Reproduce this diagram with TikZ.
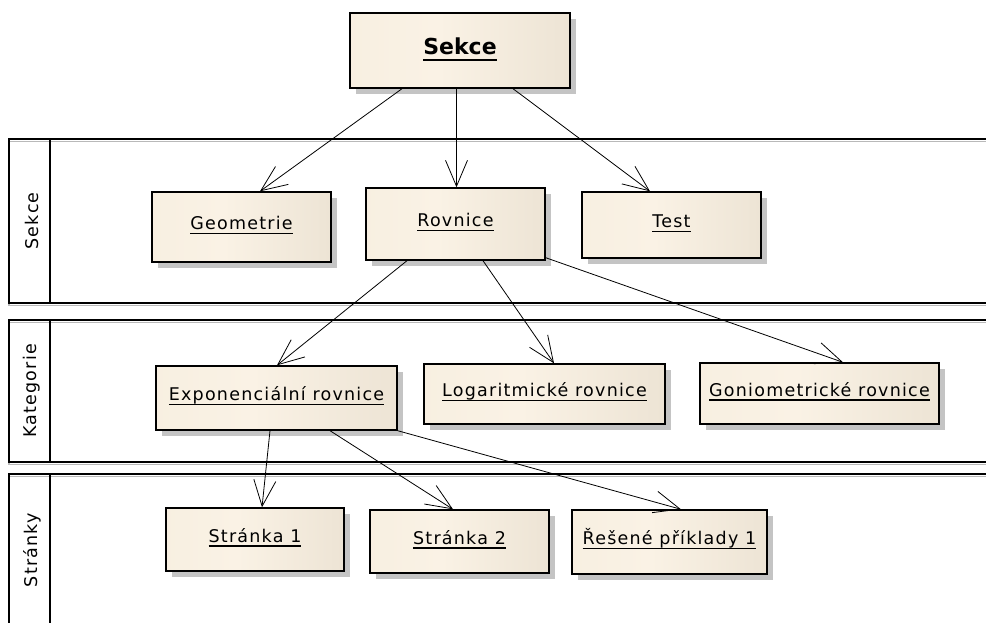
\documentclass[tikz,border=0pt]{standalone}
\usepackage{fontspec}
\usetikzlibrary{arrows.meta,shadows}
\newfontfamily\boxfont[LetterSpace=7]{DejaVu Sans}
\newfontfamily\titlefont{DejaVu Sans}
\definecolor{boxA}{RGB}{245,236,220}
\definecolor{boxB}{RGB}{250,242,229}
\definecolor{boxC}{RGB}{226,216,199}
\definecolor{shadowgray}{RGB}{196,196,196}
\definecolor{lanegray}{RGB}{185,185,185}
\pgfdeclarehorizontalshading{boxshade}{100bp}{color(0bp)=(boxA); color(45bp)=(boxB); color(100bp)=(boxC)}
\newcommand\ulthin[1]{\setbox0\hbox{#1}\rlap{\rule[-4.6pt]{\wd0}{1.2pt}}\box0}
\newcommand\ulthick[1]{\setbox0\hbox{#1}\rlap{\rule[-6pt]{\wd0}{2pt}}\box0}
\tikzset{
  box/.style={draw=black, line width=1.4pt, shading=boxshade,
    drop shadow={shadow xshift=6pt, shadow yshift=-6pt, fill=shadowgray, opacity=1},
    font=\boxfont\fontsize{17.5}{20}\selectfont, text=black,
    text height=13pt, text depth=8pt, inner sep=0pt},
  titlebox/.style={box, font=\titlefont\bfseries\fontsize{22}{26}\selectfont,
    text height=17pt, text depth=8pt},
  lanebox/.style={draw=black, line width=1.4pt},
  laneshadow/.style={draw=lanegray, line width=1.4pt},
  lanelabel/.style={font=\boxfont\fontsize{17.5}{20}\selectfont, rotate=90, inner sep=0pt},
  arr/.style={draw=black, line width=0.8pt,
    -{Straight Barb[length=26pt,width=22pt,line width=0.8pt]}}
}
\begin{document}
\begin{tikzpicture}[x=1pt,y=-1pt]
\useasboundingbox (0,0) rectangle (986,623);
\clip (0,0) rectangle (986,623);
\fill[white] (0,0) rectangle (986,623);
% swimlanes
\draw[laneshadow] (9,141.5) rectangle (995,305.5);
\draw[laneshadow] (9,322.5) rectangle (995,464.5);
\draw[laneshadow] (9,476.5) rectangle (995,645);
\draw[lanebox] (9,139) rectangle (995,303);
\draw[lanebox] (50,139) -- (50,303);
\draw[lanebox] (9,320) rectangle (995,462);
\draw[lanebox] (50,320) -- (50,462);
\draw[lanebox] (9,474) rectangle (995,645);
\draw[lanebox] (50,474) -- (50,645);
\node[lanelabel] (lsekce) at (32,221) {Sekce};
\node[lanelabel] (lkat) at (32,391) {Kategorie};
\node[lanelabel] (lstr) at (32,550) {Stránky};
% boxes
\node[titlebox, minimum width=220, minimum height=75] (top) at (460,50.5) {\ulthick{Sekce}};
\node[box, minimum width=179, minimum height=70] (geo) at (241.5,227) {\ulthin{Geometrie}};
\node[box, minimum width=179, minimum height=72] (rov) at (455.5,224) {\ulthin{Rovnice}};
\node[box, minimum width=179, minimum height=66] (test) at (671.5,225) {\ulthin{Test}};
\node[box, minimum width=241, minimum height=64] (expo) at (276.5,398) {\ulthin{Exponenciální rovnice}};
\node[box, minimum width=241, minimum height=60] (loga) at (544.5,394) {\ulthin{Logaritmické rovnice}};
\node[box, minimum width=239, minimum height=61] (gonio) at (819.5,393.5) {\ulthin{Goniometrické rovnice}};
\node[box, minimum width=178, minimum height=63] (s1) at (255,539.5) {\ulthin{Stránka 1}};
\node[box, minimum width=179, minimum height=63] (s2) at (459.5,541.5) {\ulthin{Stránka 2}};
\node[box, minimum width=195, minimum height=64] (res) at (669.5,542) {\ulthin{Řešené příklady 1}};
% connectors
\draw[arr] ([xshift=-58pt]top.south) -- ([xshift=18.5pt]geo.north);
\draw[arr] ([xshift=-3.5pt]top.south) -- ([xshift=1pt]rov.north);
\draw[arr] ([xshift=53pt]top.south) -- ([xshift=-21.5pt]test.north);
\draw[arr] ([xshift=-48.5pt]rov.south) -- ([xshift=0.5pt]expo.north);
\draw[arr] ([xshift=27.5pt]rov.south) -- ([xshift=9.5pt]loga.north);
\draw[arr] ([yshift=3pt]rov.south east) -- ([xshift=23.5pt]gonio.north);
\draw[arr] ([xshift=-6.5pt]expo.south) -- ([xshift=7pt]s1.north);
\draw[arr] ([xshift=53.5pt]expo.south) -- ([xshift=-6.5pt]s2.north);
\draw[arr] (expo.south east) -- ([xshift=11.5pt]res.north);
\end{tikzpicture}
\end{document}
